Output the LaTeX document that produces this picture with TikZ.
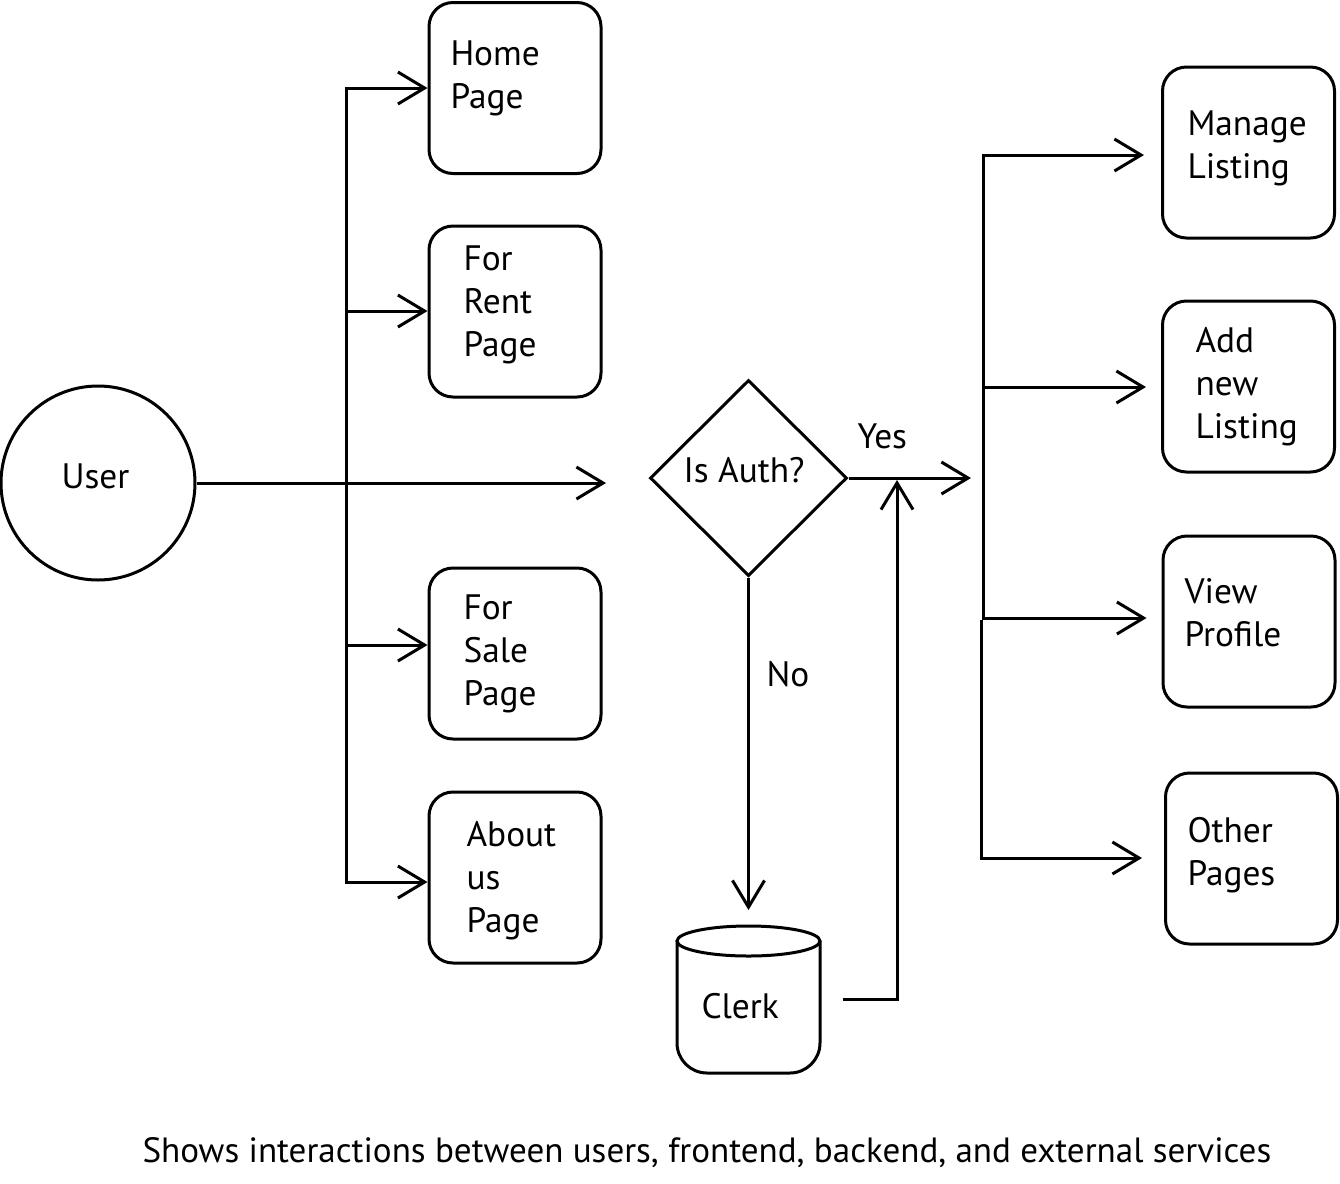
\documentclass[tikz,border=0pt]{standalone}
\usepackage{fontspec}
\setmainfont{PT Sans}
\usetikzlibrary{arrows.meta,shapes.geometric}
\begin{document}
\begin{tikzpicture}[x=0.75pt,y=-0.75pt,
  line width=2.25pt, line join=miter,
  >={Straight Barb[length=20pt,width=24pt]},
  box/.style={draw, rounded corners=18pt, minimum width=129pt, minimum height=128.25pt, inner sep=0pt},
  lbl/.style={anchor=base west, align=left, inner sep=0pt, font=\fontsize{26.5pt}{32.25pt}\selectfont},
  caplbl/.style={anchor=base west, inner sep=0pt, font=\fontsize{26.3pt}{32pt}\selectfont},
]
\useasboundingbox (0,0) rectangle (1340,1183);
% left boxes
\node[box] (home)  at (515,88) {};
\node[box] (rent)  at (515,311.5) {};
\node[box] (sale)  at (515,653.5) {};
\node[box] (about) at (515,877.5) {};
% right boxes
\node[box] (manage) at (1248.5,152.5) {};
\node[box] (add)    at (1248.5,386.5) {};
\node[box] (view)   at (1249,621.5) {};
\node[box] (other)  at (1251.5,858.5) {};
% user and decision
\node[draw, circle, minimum size=145.5pt, inner sep=0pt] (user) at (98,483) {};
\node[draw, diamond, minimum width=147.75pt, minimum height=147pt, inner sep=0pt] (auth) at (748.5,478) {};
% clerk cylinder
\draw[rounded corners=22.5pt] (677,941) -- (677,1073) -- (820,1073) -- (820,941);
\draw (748.5,941) ellipse [x radius=71.5, y radius=15];
% coordinates
\coordinate (lt) at (346,88);
\coordinate (l2) at (346,311);
\coordinate (l3) at (346,645);
\coordinate (lb) at (346,882);
\coordinate (authin) at (606,483);
\coordinate (yesend) at (971,478);
\coordinate (noend) at (748.5,910);
\coordinate (clerkout) at (843,999);
\coordinate (clerkup) at (897,480);
\coordinate (r1) at (983,155);
\coordinate (r2) at (983,387);
\coordinate (r3) at (983,618);
\coordinate (r3b) at (981,620);
\coordinate (r4) at (981,858);
% connectors
\draw[<->] (about.west |- lb) -- (lb) -- (lt) -- (home.west |- lt);
\draw[->] (l2) -- (rent.west |- l2);
\draw[->] (l3) -- (sale.west |- l3);
\draw[->] (user) -- (authin);
\draw[->] (auth.east) -- (yesend);
\draw[->] (auth.south) -- (noend);
\draw[->] (clerkout) -| (clerkup);
\draw[<->, shorten <=12.75pt, shorten >=11.25pt] (manage.west |- r1) -- (r1) -- (r3) -- (view.west |- r3);
\draw[->, shorten >=11.25pt] (r2) -- (add.west |- r2);
\draw[->, shorten >=16.5pt] (r3b) -- (r4) -- (other.west |- r4);
% labels (anchor = baseline of last line)
\node[lbl] (thome)  at (449,108) {Home\\Page};
\node[lbl] (trent)  at (462,356) {For\\Rent\\Page};
\node[lbl] (tsale)  at (462,705) {For\\Sale\\Page};
\node[lbl] (tabout) at (465,932) {About\\us\\Page};
\node[lbl] (tmanage) at (1186,178) {Manage\\Listing};
\node[lbl] (tadd)    at (1194,438) {Add\\new\\Listing};
\node[lbl] (tview)   at (1183,646) {View\\Profile};
\node[lbl] (tother)  at (1186,885) {Other\\Pages};
\node[lbl] (tuser)  at (60,488) {User};
\node[lbl] (tauth)  at (682,482) {Is Auth?};
\node[lbl] (tyes)   at (856,448) {Yes};
\node[lbl] (tno)    at (765,686) {No};
\node[lbl] (tclerk) at (700,1018) {Clerk};
\node[caplbl] (tcap) at (141,1162) {Shows interactions between users, frontend, backend, and external services};
\end{tikzpicture}
\end{document}
